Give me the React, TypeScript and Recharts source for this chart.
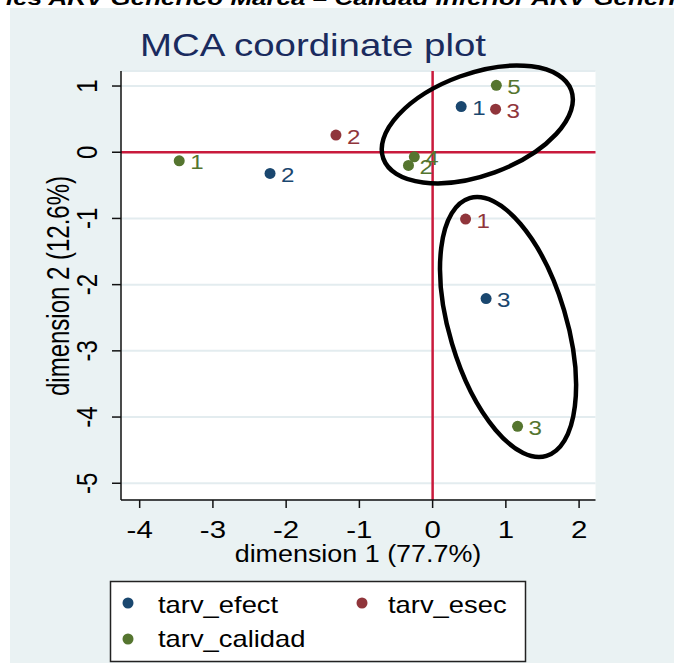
import {
  ScatterChart,
  Scatter,
  XAxis,
  YAxis,
  CartesianGrid,
  ReferenceLine,
  ReferenceDot,
} from "recharts";

// coordinates
const efectX = [0.39, -2.22, 0.73];
const efectY = [0.69, -0.32, -2.21];
const efectLabels = ["1", "2", "3"];

const esecX = [0.45, -1.32, 0.86];
const esecY = [-1.01, 0.26, 0.65];
const esecLabels = ["1", "2", "3"];

const calidadX = [-3.46, -0.33, 1.16, -0.25, 0.87];
const calidadY = [-0.13, -0.2, -4.14, -0.07, 1.01];
const calidadLabels = ["1", "2", "3", "4", "5"];

const xTicks = [-4, -3, -2, -1, 0, 1, 2];
const yTicks = [1, 0, -1, -2, -3, -4, -5];

// hand-drawn rings (centres in data units)
const ringCentres = [
  { x: 0.61, y: 0.42 },
  { x: 1.03, y: -2.64 },
];
const ringShapes = [
  { rx: 100, ry: 51, angle: -20 },
  { rx: 58.5, ry: 134.5, angle: -16.6 },
];

const NAVY = "#1a476f";
const MAROON = "#90353b";
const GREEN = "#55752f";
const RED = "#c91a3c";
const FONT = "'Liberation Sans', Arial, sans-serif";

const W = 674;
const H = 663;

const toPoints = (xs: number[], ys: number[], labels: string[]) =>
  xs.map((x, i) => ({ x, y: ys[i], label: labels[i] }));

const efect = toPoints(efectX, efectY, efectLabels);
const esec = toPoints(esecX, esecY, esecLabels);
const calidad = toPoints(calidadX, calidadY, calidadLabels);

const markerShape = (color: string) => (props: any) => {
  const { cx, cy, payload } = props;
  return (
    <g>
      <circle cx={cx} cy={cy} r={5.5} fill={color} />
      <text
        transform={`translate(${cx + 11},${cy + 8.5}) scale(1.15,1)`}
        fill={color}
        fontSize={21}
        fontFamily={FONT}
      >
        {payload.label}
      </text>
    </g>
  );
};

const XTick = (props: any) => {
  const { x, y, payload } = props;
  return (
    <text
      transform={`translate(${x},${y + 29.5}) scale(1.28,1)`}
      textAnchor="middle"
      fontSize={23}
      fontFamily={FONT}
      fill="#000"
    >
      {payload.value}
    </text>
  );
};

const YTick = (props: any) => {
  const { x, y, payload } = props;
  return (
    <text
      transform={`translate(${x - 15},${y}) scale(1.26,1) rotate(-90)`}
      textAnchor="middle"
      fontSize={24}
      fontFamily={FONT}
      fill="#000"
    >
      {payload.value}
    </text>
  );
};

const ringShape = (i: number) => (props: any) => {
  const { cx, cy } = props;
  const r = ringShapes[i];
  return (
    <ellipse
      cx={cx}
      cy={cy}
      rx={r.rx}
      ry={r.ry}
      transform={`rotate(${r.angle},${cx},${cy})`}
      fill="none"
      stroke="#000"
      strokeWidth={4.5}
    />
  );
};

const legendItems = [
  { name: "tarv_efect", color: NAVY, col: 0, row: 0 },
  { name: "tarv_esec", color: MAROON, col: 1, row: 0 },
  { name: "tarv_calidad", color: GREEN, col: 0, row: 1 },
];

export default function App() {
  return (
    <div
      style={{
        position: "absolute",
        left: 0,
        top: 0,
        width: W,
        height: H,
        background: "#fff",
        overflow: "hidden",
      }}
    >
      <div
        style={{
          position: "absolute",
          left: 10,
          top: 8,
          right: 0,
          bottom: 0,
          background: "#eaf2f3",
        }}
      />
      <div style={{ position: "absolute", left: 0, top: 0 }}>
        <ScatterChart
          width={W}
          height={H}
          margin={{ top: 71, right: 78.5, bottom: 93, left: 0 }}
        >
          <CartesianGrid
            vertical={false}
            fill="#ffffff"
            fillOpacity={1}
            stroke="#e3ecef"
            strokeWidth={2}
          />
          <XAxis
            type="number"
            dataKey="x"
            domain={[-4.255, 2.224]}
            ticks={xTicks}
            interval={0}
            allowDataOverflow
            height={70}
            tickSize={8}
            tickMargin={0}
            axisLine={{ stroke: "#111", strokeWidth: 1.5 }}
            tickLine={{ stroke: "#111", strokeWidth: 1.5 }}
            tick={XTick}
          />
          <YAxis
            type="number"
            dataKey="y"
            domain={[-5.253, 1.227]}
            ticks={yTicks}
            interval={0}
            allowDataOverflow
            width={121}
            tickSize={9}
            tickMargin={0}
            axisLine={{ stroke: "#111", strokeWidth: 1.5 }}
            tickLine={{ stroke: "#111", strokeWidth: 1.5 }}
            tick={YTick}
          />
          <ReferenceLine x={0} stroke={RED} strokeWidth={2.5} />
          <ReferenceLine y={0} stroke={RED} strokeWidth={2.5} />
          <Scatter
            name="tarv_efect"
            data={efect}
            fill={NAVY}
            shape={markerShape(NAVY)}
            isAnimationActive={false}
          />
          <Scatter
            name="tarv_esec"
            data={esec}
            fill={MAROON}
            shape={markerShape(MAROON)}
            isAnimationActive={false}
          />
          <Scatter
            name="tarv_calidad"
            data={calidad}
            fill={GREEN}
            shape={markerShape(GREEN)}
            isAnimationActive={false}
          />
          {ringCentres.map((c, i) => (
            <ReferenceDot
              key={i}
              x={c.x}
              y={c.y}
              r={1}
              ifOverflow="visible"
              shape={ringShape(i)}
            />
          ))}
        </ScatterChart>
      </div>
      <svg
        width={W}
        height={H}
        style={{ position: "absolute", left: 0, top: 0, pointerEvents: "none" }}
        fontFamily={FONT}
      >
        <text
          transform="translate(6,5) scale(1.3,1)"
          fontSize={20}
          fontWeight="bold"
          fontStyle="italic"
          fill="#000"
        >
          ies ARV Genérico Marca – Calidad Inferior ARV Genérico
        </text>
        <text
          transform="translate(140,56) scale(1.26,1)"
          fontSize={30.5}
          fill="#1a2b5e"
        >
          MCA coordinate plot
        </text>
        <text
          transform="translate(358,562) scale(1.17,1)"
          textAnchor="middle"
          fontSize={23}
          fill="#000"
        >
          dimension 1 (77.7%)
        </text>
        <text
          transform="translate(69,286) scale(1.28,1) rotate(-90)"
          textAnchor="middle"
          fontSize={24}
          fill="#000"
        >
          dimension 2 (12.6%)
        </text>
        <rect
          x={110.5}
          y={581.5}
          width={415}
          height={80}
          fill="#fff"
          stroke="#222"
          strokeWidth={1.5}
        />
        {legendItems.map((it) => (
          <g key={it.name}>
            <circle
              cx={128 + it.col * 234}
              cy={603 + it.row * 36}
              r={5.5}
              fill={it.color}
            />
            <text
              transform={`translate(${158 + it.col * 230},${613 + it.row * 34}) scale(1.19,1)`}
              fontSize={23}
              fill="#000"
            >
              {it.name}
            </text>
          </g>
        ))}
      </svg>
    </div>
  );
}
